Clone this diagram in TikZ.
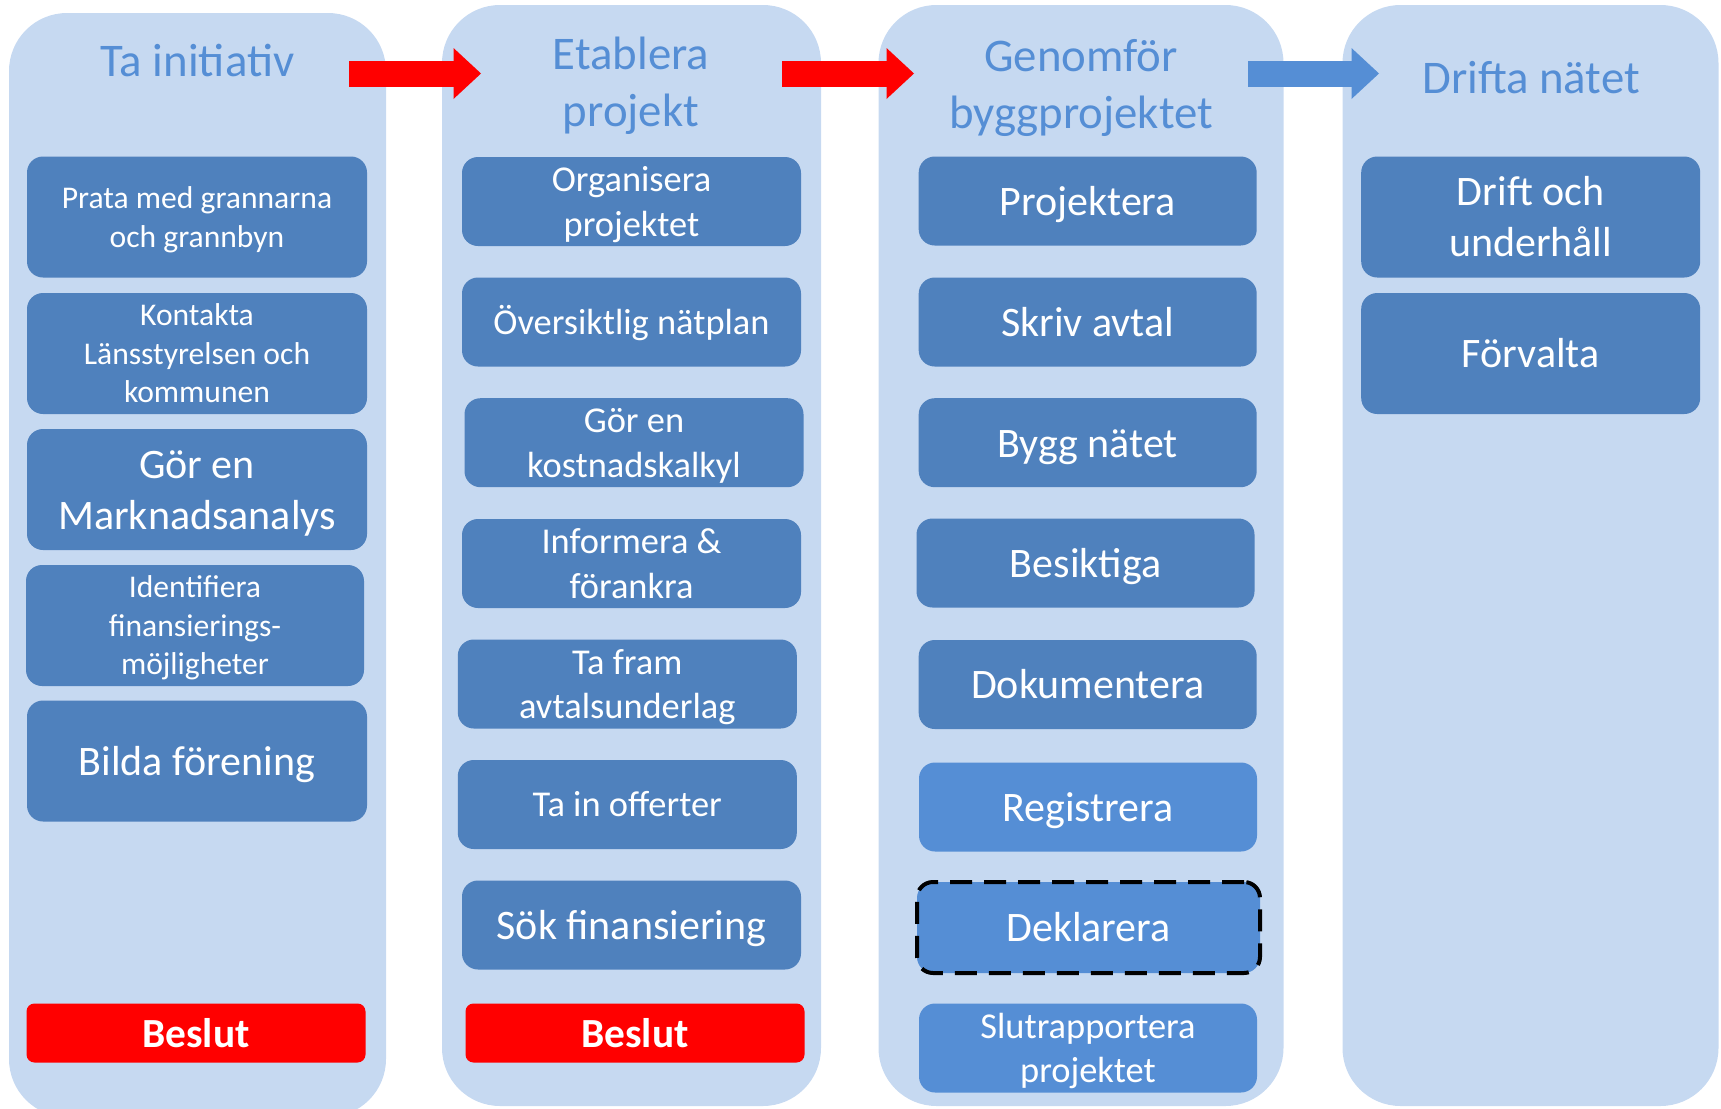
\documentclass[tikz,border=0pt]{standalone}
\usepackage{fontspec}
\setmainfont{Carlito}
\usetikzlibrary{arrows.meta,positioning}
\definecolor{laneblue}{HTML}{C6D9F1}
\definecolor{boxblue}{HTML}{4F81BD}
\definecolor{lightblue}{HTML}{558ED5}
\tikzset{
    lane/.style={fill=laneblue, rounded corners=29pt, inner sep=0pt},
    % every line gets the ascent and descent of the font
    pptline/.style={text width=160pt, align=flush center,
        execute at begin node={\rule{0pt}{0.952em}},
        execute at end node={\rule[-0.269em]{0pt}{0.269em}}},
    stepbox/.style={pptline, fill=boxblue, rounded corners=8pt, text=white,
        minimum width=170pt, minimum height=44.5pt, inner sep=0pt},
    tall/.style={minimum height=60.5pt},
    lightbox/.style={stepbox, fill=lightblue},
    dashbox/.style={lightbox, draw=black, line width=2pt, dash pattern=on 11pt off 6pt},
    beslut/.style={pptline, fill=red, rounded corners=4pt, text=white, inner sep=0pt,
        minimum width=169.5pt, minimum height=29.5pt,
        font=\fontsize{20.7}{25.3}\selectfont\bfseries},
    phasetitle/.style={text=lightblue, align=center, inner sep=0pt,
        font=\fontsize{23.4}{28.5}\selectfont},
    bigtext/.style={font=\fontsize{21}{25.64}\selectfont},
    midtext/.style={font=\fontsize{18.2}{22.22}\selectfont},
    smalltext/.style={font=\fontsize{15.8}{19.29}\selectfont},
    flow/.style={line width=13pt, -{Triangle[length=13.75pt, width=25.5pt, line width=0pt]}}
}

\begin{document}
\begin{tikzpicture}[x=0.5pt,y=-0.5pt]
    \useasboundingbox (0,0) rectangle (1721,1109);

    % Draw the four lanes.
    \foreach \n/\x/\y/\w/\h in {lane1/197.5/565/188.5/552, lane2/631.5/555.5/189.5/550.5,
                                lane3/1081/555.5/202.5/550.5, lane4/1530.5/555.5/188/550.5}
        \node[lane, minimum width=\w pt, minimum height=\h pt] (\n) at (\x,\y) {};

    % Phase titles.
    \node[phasetitle, anchor=base] (t1) at (197.6,76) {Ta initiativ};
    \node[phasetitle] (t2) at (631,86) {Etablera\\projekt};
    \node[phasetitle] (t3) at (1081,87.5) {Genomför\\byggprojektet};
    \node[phasetitle, anchor=base] (t4) at (1531,93) {Drifta nätet};

    % Arrows between the phases.
    \coordinate (a1s) at (349,73.5);
    \coordinate (a1e) at (481,73.5);
    \coordinate (a2s) at (782,73.5);
    \coordinate (a2e) at (914,73.5);
    \coordinate (a3s) at (1248,73.5);
    \coordinate (a3e) at (1379,73.5);
    \draw[flow, red] (a1s) -- (a1e);
    \draw[flow, red] (a2s) -- (a2e);
    \draw[flow, lightblue] (a3s) -- (a3e);

    % Ta initiativ.
    \node[stepbox, tall, smalltext] (prata) at (197,217) {Prata med grannarna\\och grannbyn};
    \node[stepbox, tall, smalltext] (kontakta) at (197,353.5) {Kontakta\\Länsstyrelsen och\\kommunen};
    \node[stepbox, tall, bigtext] (marknad) at (197,489.5) {Gör en\\Marknadsanalys};
    \node[stepbox, tall, smalltext, minimum width=169pt] (finans) at (195,625.5) {Identifiera\\finansierings-\\möjligheter};
    \node[stepbox, tall, bigtext] (forening) at (197,761) {Bilda förening};
    \node[beslut] (beslut1) at (196,1033) {Beslut};

    % Etablera projekt.
    \node[stepbox, midtext, minimum width=169.5pt] (organisera) at (631.5,201.5) {Organisera\\projektet};
    \node[stepbox, midtext, minimum width=169.5pt] (natplan) at (631.5,322) {Översiktlig nätplan};
    \node[stepbox, midtext, minimum width=169.5pt] (kalkyl) at (634,442.7) {Gör en\\kostnadskalkyl};
    \node[stepbox, midtext, minimum width=169.5pt] (informera) at (631.5,563.5) {Informera \&\\förankra};
    \node[stepbox, midtext, minimum width=169.5pt] (underlag) at (627.3,684) {Ta fram\\avtalsunderlag};
    \node[stepbox, midtext, minimum width=169.5pt] (offerter) at (627.3,804.5) {Ta in offerter};
    \node[stepbox, bigtext, minimum width=169.5pt] (finansiering) at (631.5,925) {Sök finansiering};
    \node[beslut] (beslut2) at (635,1033) {Beslut};

    % Genomför byggprojektet.
    \node[stepbox, bigtext, minimum width=169pt] (projektera) at (1087.7,201) {Projektera};
    \node[stepbox, bigtext, minimum width=169pt] (skriv) at (1087.7,322) {Skriv avtal};
    \node[stepbox, bigtext, minimum width=169pt] (bygg) at (1087.7,442.7) {Bygg nätet};
    \node[stepbox, bigtext, minimum width=169pt] (besiktiga) at (1085.5,563) {Besiktiga};
    \node[stepbox, bigtext, minimum width=169pt] (dokumentera) at (1087.7,684.5) {Dokumentera};
    \node[lightbox, bigtext, minimum width=169pt] (registrera) at (1088,807) {Registrera};
    \node[dashbox, bigtext, minimum width=171.5pt, minimum height=45.5pt] (deklarera) at (1088.5,927.5) {Deklarera};
    \node[lightbox, midtext, minimum width=169pt] (slutrapport) at (1088,1048) {Slutrapportera\\projektet};

    % Drifta nätet.
    \node[stepbox, tall, bigtext, minimum width=169.5pt] (drift) at (1530.7,217) {Drift och\\underhåll};
    \node[stepbox, tall, bigtext, minimum width=169.5pt] (forvalta) at (1530.7,353.5) {Förvalta};
\end{tikzpicture}
\end{document}
